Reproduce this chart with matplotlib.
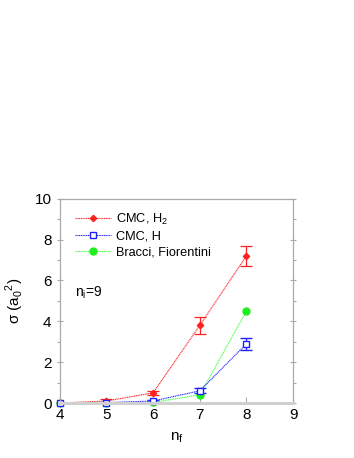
import matplotlib

matplotlib.use("Agg")

import matplotlib.pyplot as plt  # noqa: E402
from matplotlib.lines import Line2D  # noqa: E402
from matplotlib.ticker import MultipleLocator  # noqa: E402


N_F = [4, 5, 6, 7, 8]

H2_SIGMA = [0.0, 0.1, 0.5, 3.8, 7.2]
H2_ERR = [0.0, 0.1, 0.1, 0.4, 0.5]

H_SIGMA = [0.0, 0.02, 0.1, 0.6, 2.9]
H_ERR = [0.0, 0.0, 0.05, 0.12, 0.3]

BF_SIGMA = [0.0, 0.0, 0.03, 0.4, 4.5]

X_TICKS = [4, 5, 6, 7, 8, 9]
Y_TICKS = [0, 2, 4, 6, 8, 10]

RED = "#ff2020"
BLUE = "#2020ff"
GREEN = "#20ee20"
FRAME = "#aaaaaa"


def main() -> None:
    plt.rcParams["font.family"] = ["Liberation Sans", "DejaVu Sans"]
    fig = plt.figure(figsize=(3.54, 4.58), dpi=100)
    ax = fig.add_axes([0.169, 0.120, 0.659, 0.446])

    dotted = (0, (1, 0.6))
    h2 = ax.errorbar(N_F, H2_SIGMA, yerr=H2_ERR, errorevery=(1, 1),
                     color=RED, lw=0.8, ls=dotted, marker="D", ms=3.2,
                     mfc=RED, mec=RED, capsize=4.5, elinewidth=0.9,
                     capthick=0.9)
    h = ax.errorbar(N_F, H_SIGMA, yerr=H_ERR, errorevery=(2, 1), color=BLUE,
                    lw=0.8, ls=dotted, marker="s", ms=4, mfc="white",
                    mec=BLUE, mew=1, capsize=4.5, elinewidth=0.9,
                    capthick=0.9)
    bf = ax.plot(N_F, BF_SIGMA, color="#40ff40", lw=0.8, ls=dotted,
                 marker="o", ms=5, mfc=GREEN, mec=GREEN)
    h2.lines[0].set_clip_on(False)
    h.lines[0].set_clip_on(False)
    bf[0].set_clip_on(False)

    ax.set_xlim(4, 9)
    ax.set_ylim(0, 10)
    ax.set_xticks(X_TICKS)
    ax.set_yticks(Y_TICKS)
    ax.yaxis.set_minor_locator(MultipleLocator(1))
    ax.tick_params(axis="both", labelsize=11, colors=FRAME,
                   labelcolor="black", width=0.8, direction="in", length=4)
    ax.tick_params(axis="y", which="both", right=True)
    ax.tick_params(axis="y", which="major", direction="inout", length=5)
    ax.tick_params(axis="y", which="minor", length=2.5, width=0.8,
                   colors=FRAME)
    for side in ("left", "right", "top"):
        ax.spines[side].set_color(FRAME)
        ax.spines[side].set_linewidth(0.9)
    ax.spines["bottom"].set_linewidth(2.2)
    ax.spines["bottom"].set_color("#d0d0d0")

    ax.set_xlabel(r"n$_\mathregular{f}$", fontsize=11, labelpad=6)
    ax.set_ylabel(r"σ (a$_\mathregular{0}$$^\mathregular{2}$)", fontsize=11,
                  labelpad=6)
    ax.text(0.065, 0.52, r"n$_\mathregular{i}$=9", transform=ax.transAxes,
            fontsize=10)

    handles = [
        Line2D([], [], color=RED, lw=0.8, ls=dotted, marker="D", ms=3.2,
               mfc=RED, mec=RED),
        Line2D([], [], color=BLUE, lw=0.8, ls=dotted, marker="s", ms=4,
               mfc="white", mec=BLUE, mew=1),
        Line2D([], [], color="#40ff40", lw=0.8, ls=dotted, marker="o", ms=5,
               mfc=GREEN, mec=GREEN),
    ]
    labels = [r"CMC, H$_\mathregular{2}$", "CMC, H", "Bracci, Fiorentini"]
    ax.legend(handles, labels, loc="upper left", frameon=False, fontsize=9.2,
              handlelength=2.8, handletextpad=0.4, labelspacing=0.3,
              borderaxespad=0.6, bbox_to_anchor=(0.01, 1.0))

    fig.savefig("out.png", dpi=100)
    plt.close(fig)


if __name__ == "__main__":
    main()
